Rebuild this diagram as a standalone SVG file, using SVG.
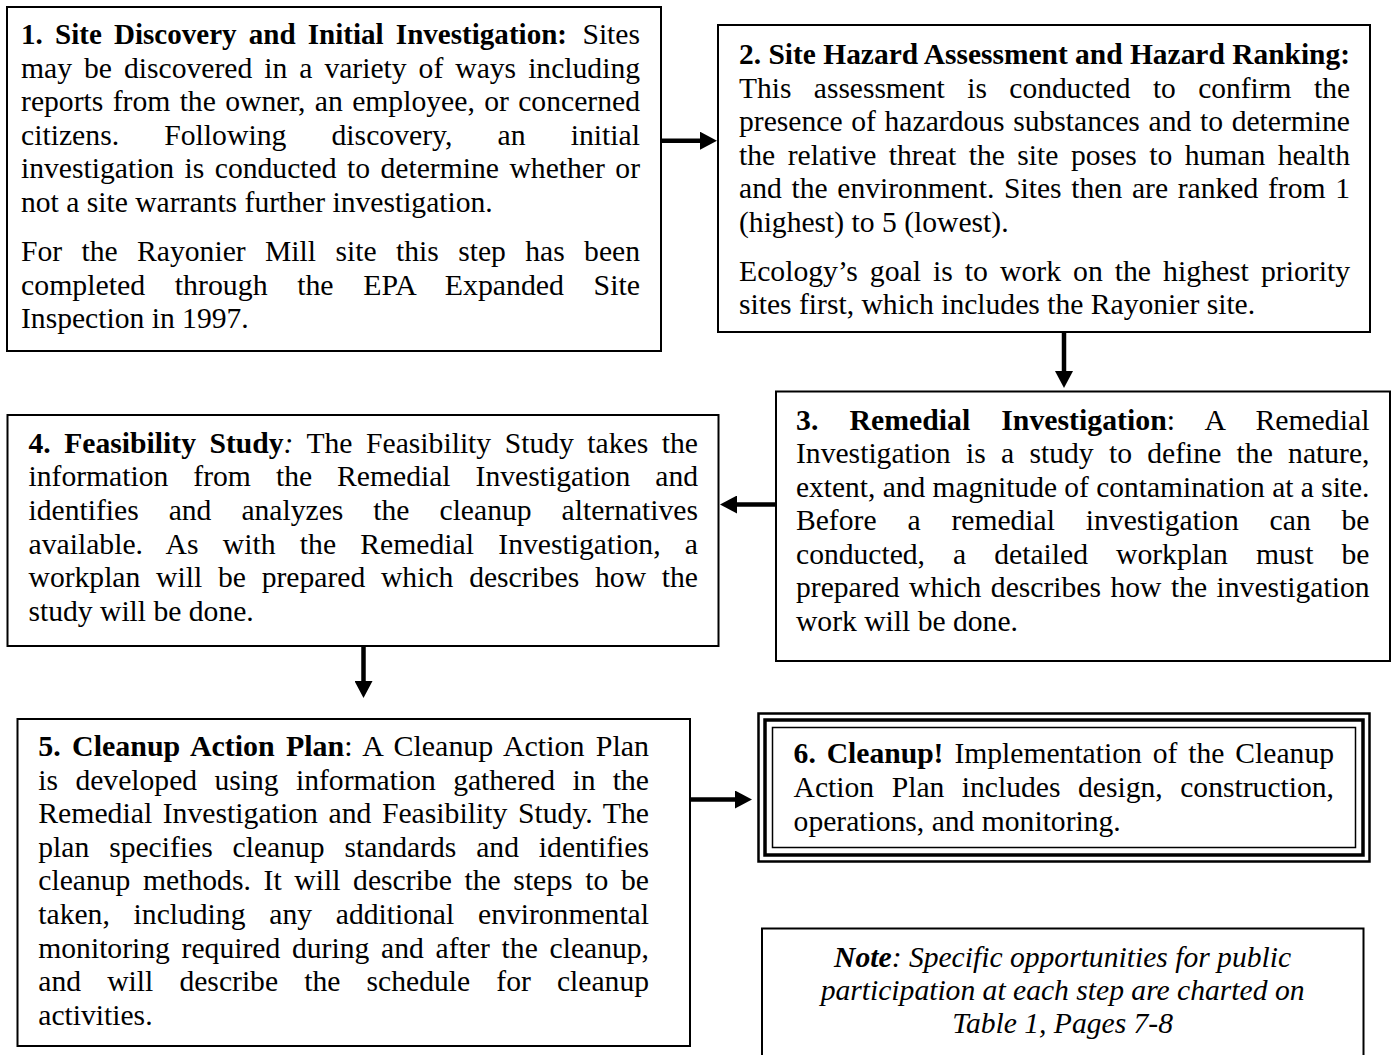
<svg xmlns="http://www.w3.org/2000/svg" width="1396" height="1055" viewBox="0 0 1396 1055">
<style>
.t{font-family:"Liberation Serif","Times New Roman",serif;font-size:29.6px;fill:#000}
.b{font-weight:bold}
.i{font-style:italic}
.box{fill:#fff;stroke:#000;stroke-width:2}
.con{fill:none;stroke:#000;stroke-width:4.5}
</style>
<defs>
<marker id="ah" markerUnits="userSpaceOnUse" markerWidth="18" markerHeight="18" viewBox="0 0 18 18" refX="1" refY="9" orient="auto">
<path d="M0,0 L17,9 L0,18 z" fill="#000"/>
</marker>
</defs>
<rect width="1396" height="1055" fill="#fff"/>

<g id="connectors">
<path class="con" d="M661,140.7 H701" marker-end="url(#ah)"/>
<path class="con" d="M1064,332 V372" marker-end="url(#ah)"/>
<path class="con" d="M775.5,504.5 H736" marker-end="url(#ah)"/>
<path class="con" d="M363.5,646 V682" marker-end="url(#ah)"/>
<path class="con" d="M679,799.5 H736" marker-end="url(#ah)"/>
</g>

<g id="node1">
<rect class="box" x="7" y="7" width="654" height="344"/>
<text class="t b" x="21" y="44" textLength="546" lengthAdjust="spacingAndGlyphs" style="word-spacing:5px">1. Site Discovery and Initial Investigation:</text>
<text class="t" x="640" y="44" text-anchor="end">Sites</text>
<text class="t" x="21" y="77.6" textLength="619" lengthAdjust="spacingAndGlyphs" style="word-spacing:4.6px">may be discovered in a variety of ways including</text>
<text class="t" x="21" y="111.2" textLength="619" lengthAdjust="spacingAndGlyphs" style="word-spacing:1.9px">reports from the owner, an employee, or concerned</text>
<text class="t" x="21" y="144.8" textLength="619" lengthAdjust="spacingAndGlyphs" style="word-spacing:37.6px">citizens. Following discovery, an initial</text>
<text class="t" x="21" y="178.4" textLength="619" lengthAdjust="spacingAndGlyphs" style="word-spacing:3.1px">investigation is conducted to determine whether or</text>
<text class="t" x="21" y="212">not a site warrants further investigation.</text>
<text class="t" x="21" y="261" textLength="619" lengthAdjust="spacingAndGlyphs" style="word-spacing:12px">For the Rayonier Mill site this step has been</text>
<text class="t" x="21" y="294.6" textLength="619" lengthAdjust="spacingAndGlyphs" style="word-spacing:22px">completed through the EPA Expanded Site</text>
<text class="t" x="21" y="328.2">Inspection in 1997.</text>
</g>

<g id="node2">
<rect class="box" x="718" y="25" width="652" height="307"/>
<text class="t b" x="739" y="64" textLength="611" lengthAdjust="spacingAndGlyphs">2. Site Hazard Assessment and Hazard Ranking:</text>
<text class="t" x="739" y="97.5" textLength="611" lengthAdjust="spacingAndGlyphs" style="word-spacing:15.2px">This assessment is conducted to confirm the</text>
<text class="t" x="739" y="131" textLength="611" lengthAdjust="spacingAndGlyphs" style="word-spacing:1.3px">presence of hazardous substances and to determine</text>
<text class="t" x="739" y="164.5" textLength="611" lengthAdjust="spacingAndGlyphs" style="word-spacing:5.1px">the relative threat the site poses to human health</text>
<text class="t" x="739" y="198" textLength="611" lengthAdjust="spacingAndGlyphs" style="word-spacing:2.3px">and the environment. Sites then are ranked from 1</text>
<text class="t" x="739" y="231.5">(highest) to 5 (lowest).</text>
<text class="t" x="739" y="280.5" textLength="611" lengthAdjust="spacingAndGlyphs" style="word-spacing:4.6px">Ecology’s goal is to work on the highest priority</text>
<text class="t" x="739" y="314">sites first, which includes the Rayonier site.</text>
</g>

<g id="node3">
<rect class="box" x="776" y="391.5" width="614" height="269.5"/>
<text class="t" x="796" y="429.5" textLength="573.5" lengthAdjust="spacingAndGlyphs" style="word-spacing:23.5px"><tspan class="b">3. Remedial Investigation</tspan>: A Remedial</text>
<text class="t" x="796" y="463" textLength="573.5" lengthAdjust="spacingAndGlyphs" style="word-spacing:7.9px">Investigation is a study to define the nature,</text>
<text class="t" x="796" y="496.5" textLength="573.5" lengthAdjust="spacingAndGlyphs">extent, and magnitude of contamination at a site.</text>
<text class="t" x="796" y="530" textLength="573.5" lengthAdjust="spacingAndGlyphs" style="word-spacing:23.5px">Before a remedial investigation can be</text>
<text class="t" x="796" y="563.5" textLength="573.5" lengthAdjust="spacingAndGlyphs" style="word-spacing:20.7px">conducted, a detailed workplan must be</text>
<text class="t" x="796" y="597" textLength="573.5" lengthAdjust="spacingAndGlyphs" style="word-spacing:2.1px">prepared which describes how the investigation</text>
<text class="t" x="796" y="630.5">work will be done.</text>
</g>

<g id="node4">
<rect class="box" x="7.5" y="415" width="711" height="231"/>
<text class="t" x="28.5" y="452.7" textLength="669.5" lengthAdjust="spacingAndGlyphs" style="word-spacing:6.1px"><tspan class="b">4. Feasibility Study</tspan><tspan class="i">:</tspan> The Feasibility Study takes the</text>
<text class="t" x="28.5" y="486.3" textLength="669.5" lengthAdjust="spacingAndGlyphs" style="word-spacing:17.6px">information from the Remedial Investigation and</text>
<text class="t" x="28.5" y="519.9" textLength="669.5" lengthAdjust="spacingAndGlyphs" style="word-spacing:22.6px">identifies and analyzes the cleanup alternatives</text>
<text class="t" x="28.5" y="553.5" textLength="669.5" lengthAdjust="spacingAndGlyphs" style="word-spacing:16.8px">available. As with the Remedial Investigation, a</text>
<text class="t" x="28.5" y="587.1" textLength="669.5" lengthAdjust="spacingAndGlyphs" style="word-spacing:8.4px">workplan will be prepared which describes how the</text>
<text class="t" x="28.5" y="620.7">study will be done.</text>
</g>

<g id="node5">
<rect class="box" x="17.5" y="719" width="672.5" height="327"/>
<text class="t" x="38.3" y="756" textLength="610.7" lengthAdjust="spacingAndGlyphs" style="word-spacing:3.8px"><tspan class="b">5. Cleanup Action Plan</tspan>: A Cleanup Action Plan</text>
<text class="t" x="38.3" y="789.6" textLength="610.7" lengthAdjust="spacingAndGlyphs" style="word-spacing:10px">is developed using information gathered in the</text>
<text class="t" x="38.3" y="823.2" textLength="610.7" lengthAdjust="spacingAndGlyphs" style="word-spacing:3.1px">Remedial Investigation and Feasibility Study. The</text>
<text class="t" x="38.3" y="856.8" textLength="610.7" lengthAdjust="spacingAndGlyphs" style="word-spacing:12.5px">plan specifies cleanup standards and identifies</text>
<text class="t" x="38.3" y="890.4" textLength="610.7" lengthAdjust="spacingAndGlyphs" style="word-spacing:5.3px">cleanup methods. It will describe the steps to be</text>
<text class="t" x="38.3" y="924" textLength="610.7" lengthAdjust="spacingAndGlyphs" style="word-spacing:16.4px">taken, including any additional environmental</text>
<text class="t" x="38.3" y="957.6" textLength="610.7" lengthAdjust="spacingAndGlyphs" style="word-spacing:4.4px">monitoring required during and after the cleanup,</text>
<text class="t" x="38.3" y="991.2" textLength="610.7" lengthAdjust="spacingAndGlyphs" style="word-spacing:18.8px">and will describe the schedule for cleanup</text>
<text class="t" x="38.3" y="1024.8">activities.</text>
</g>

<g id="node6">
<rect x="758.5" y="713.5" width="611" height="148" fill="#fff" stroke="#000" stroke-width="2.5"/>
<rect x="765" y="720" width="598" height="135" fill="none" stroke="#000" stroke-width="3.5"/>
<rect x="772.5" y="727.5" width="583" height="120" fill="none" stroke="#000" stroke-width="1.5"/>
<text class="t" x="793.6" y="763.3" textLength="540.4" lengthAdjust="spacingAndGlyphs" style="word-spacing:3.5px"><tspan class="b">6. Cleanup!</tspan> Implementation of the Cleanup</text>
<text class="t" x="793.6" y="796.9" textLength="540.4" lengthAdjust="spacingAndGlyphs" style="word-spacing:10.1px">Action Plan includes design, construction,</text>
<text class="t" x="793.6" y="830.5">operations, and monitoring.</text>
</g>

<g id="note">
<rect class="box" x="762" y="928.5" width="601.5" height="135"/>
<text class="t i" x="1062.6" y="966.7" text-anchor="middle"><tspan class="b">Note</tspan>: Specific opportunities for public</text>
<text class="t i" x="1062.6" y="1000" text-anchor="middle">participation at each step are charted on</text>
<text class="t i" x="1062.6" y="1033.3" text-anchor="middle">Table 1, Pages 7-8</text>
</g>
</svg>
